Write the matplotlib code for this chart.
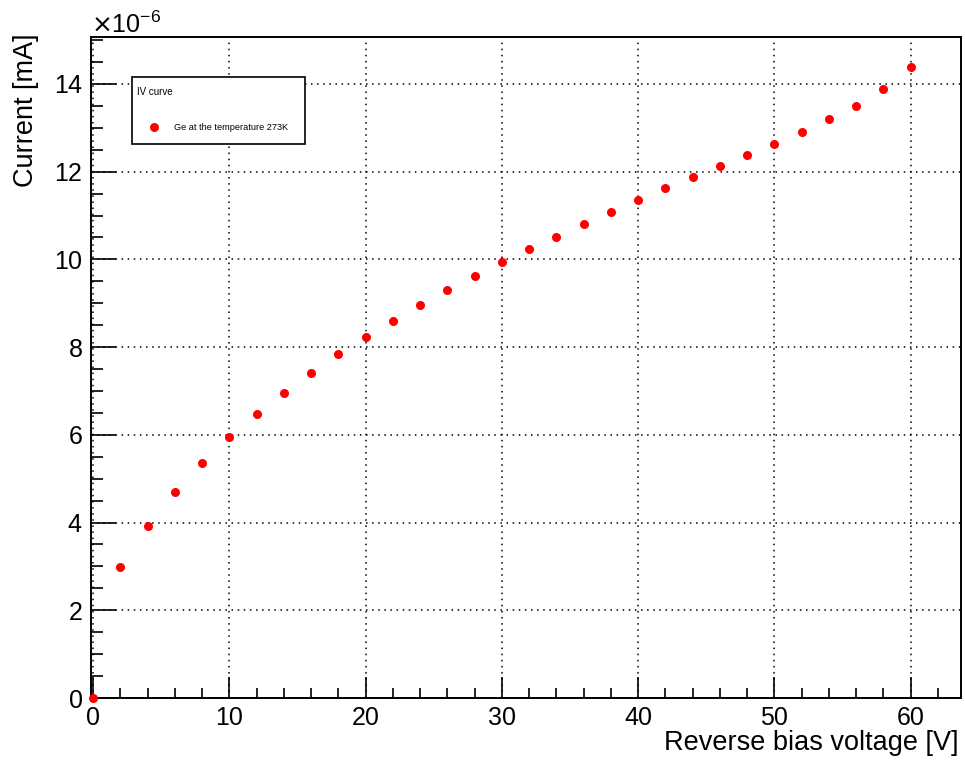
import matplotlib
matplotlib.use('Agg')
import matplotlib.pyplot as plt
from matplotlib.patches import Rectangle
from matplotlib.lines import Line2D
from matplotlib.ticker import MultipleLocator, ScalarFormatter

plt.rcParams['font.family'] = ['Liberation Sans', 'DejaVu Sans']

# bias voltage [V] and leakage current [x1e-6 mA]
voltage = [0, 2, 4, 6, 8, 10, 12, 14, 16, 18, 20, 22, 24, 26, 28, 30,
           32, 34, 36, 38, 40, 42, 44, 46, 48, 50, 52, 54, 56, 58, 60]
current = [0.0, 2.99, 3.92, 4.70, 5.36, 5.95, 6.48, 6.95, 7.41, 7.84, 8.23,
           8.60, 8.96, 9.30, 9.62, 9.94, 10.24, 10.51, 10.81, 11.08, 11.35,
           11.63, 11.88, 12.13, 12.37, 12.63, 12.90, 13.19, 13.50, 13.89, 14.38]
current_mA = [c * 1e-6 for c in current]

W, H = 965, 764
fig = plt.figure(figsize=(W / 100, H / 100), dpi=100)
ax = fig.add_axes([91 / W, 1 - 698 / H, 870 / W, 661 / H])

ax.plot(voltage, current_mA, 'o', color='red', markersize=6.5,
        markeredgewidth=0, zorder=5, clip_on=False)

ax.set_xlim(-0.15, 63.7)
ax.set_ylim(0, 15.07e-6)

ax.xaxis.set_major_locator(MultipleLocator(10))
ax.xaxis.set_minor_locator(MultipleLocator(2))
ax.yaxis.set_major_locator(MultipleLocator(2e-6))
ax.yaxis.set_minor_locator(MultipleLocator(0.5e-6))
fmt = ScalarFormatter(useMathText=True)
fmt.set_powerlimits((-6, -6))
ax.yaxis.set_major_formatter(fmt)
ax.yaxis.get_offset_text().set_fontsize(18)

ax.tick_params(which='both', direction='in', top=False, right=False,
               labelsize=18, width=1.2)
ax.tick_params(axis='x', which='major', length=15, pad=6)
ax.tick_params(axis='x', which='minor', length=7)
ax.tick_params(axis='y', which='major', length=18, pad=6)
ax.tick_params(axis='y', which='minor', length=8.5)

ax.grid(True, which='major', color='black', linestyle=(0, (1, 3)), linewidth=1.1)
for s in ax.spines.values():
    s.set_linewidth(1.4)

ax.set_xlabel('Reverse bias voltage [V]', fontsize=19.5, loc='right')
ax.xaxis.set_label_coords(0.9966, -0.049)
ax.set_ylabel('Current [mA]', fontsize=19.5, loc='top')
ax.yaxis.set_label_coords(-0.06, 1.006)

# legend box
fig.add_artist(Rectangle((132 / W, 1 - 144 / H), 173 / W, 67 / H,
                         transform=fig.transFigure, facecolor='white',
                         edgecolor='black', linewidth=1.2, zorder=10))
fig.text(137 / W, 1 - 92 / H, 'IV curve', fontsize=7, va='center',
         ha='left', zorder=11)
fig.add_artist(Line2D([154 / W], [1 - 127 / H], marker='o', color='red',
                      markersize=6.5, markeredgewidth=0, linestyle='none',
                      transform=fig.transFigure, zorder=11))
fig.text(174 / W, 1 - 127 / H, 'Ge at the temperature 273K', fontsize=6.6,
         va='center', ha='left', zorder=11)

fig.savefig('out.png', dpi=100)
